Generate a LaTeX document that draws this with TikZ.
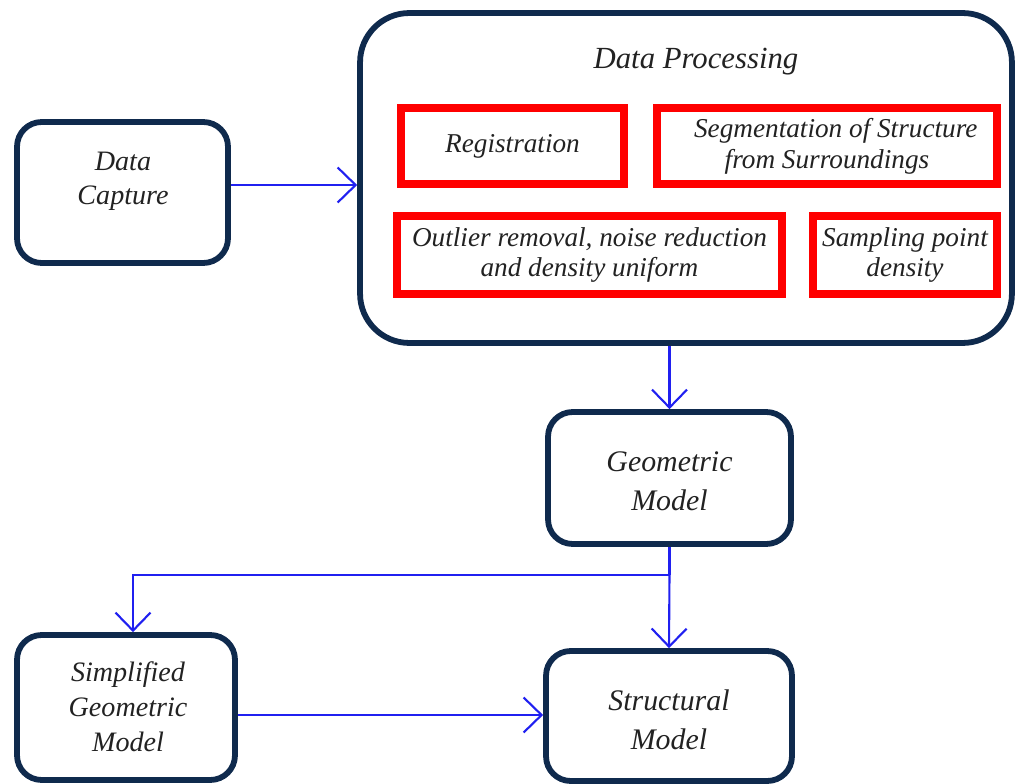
\documentclass[tikz,border=0pt]{standalone}
\usepackage{fontspec}
\setmainfont{Liberation Serif}
\usetikzlibrary{arrows.meta}
\definecolor{navy}{HTML}{0F2A4D}
\definecolor{redb}{HTML}{FF0000}
\definecolor{blueline}{HTML}{2020F0}
\definecolor{txt}{HTML}{222222}
\tikzset{
  navybox/.style={draw=navy, line width=3.3pt, rounded corners=14pt, fill=white, inner sep=0pt},
  boxtext/.style={align=center, text=txt, font=\fontsize{16}{19.5}\selectfont\itshape, inner sep=0pt},
  bigtext/.style={boxtext, font=\fontsize{17}{22}\selectfont\itshape},
  redbox/.style={draw=redb, line width=4.3pt, fill=white, align=center, text=txt, font=\fontsize{15.5}{17.5}\selectfont\itshape, inner sep=0pt},
  conn/.style={draw=blueline, line width=1.2pt},
  arr/.style={conn, -{Straight Barb[length=3.6mm, width=7mm, line width=1.2pt]}}
}
\begin{document}
\begin{tikzpicture}[x=0.02cm, y=-0.02cm]
\useasboundingbox (0,0) rectangle (1019,784);
% Data Capture
\node[navybox, minimum width=4.22cm, minimum height=2.82cm] (dc) at (122.5,192.5) {};
\node[boxtext] (dct) at (123,181) {Data\\Capture};
% Data Processing container
\node[navybox, rounded corners=28pt, minimum width=13.04cm, minimum height=6.6cm] (dp) at (686,178) {};
\node[text=txt, font=\fontsize{17.5}{20}\selectfont\itshape] (dpt) at (696,62) {Data Processing};
% red boxes
\node[redbox, minimum width=4.46cm, minimum height=1.52cm] (reg) at (512.5,146) {Registration};
\node[redbox, minimum width=6.8cm, minimum height=1.52cm] (seg) at (827,146) {\hspace{10pt}Segmentation of Structure\\from Surroundings};
\node[redbox, minimum width=7.7cm, minimum height=1.56cm] (out) at (589.5,255) {Outlier removal, noise reduction\\and density uniform};
\node[redbox, minimum width=3.68cm, minimum height=1.56cm] (samp) at (905,255) {Sampling point\\density};
% Geometric model
\node[navybox, minimum width=4.86cm, minimum height=2.64cm] (gm) at (669.5,478) {};
\node[bigtext] (gmt) at (669.5,481) {Geometric\\Model};
% Simplified geometric model
\node[navybox, minimum width=4.36cm, minimum height=2.9cm] (sg) at (126,707.5) {};
\node[boxtext, font=\fontsize{16}{20}\selectfont\itshape] (sgt) at (128,707) {Simplified\\Geometric\\Model};
% Structural model
\node[navybox, minimum width=4.92cm, minimum height=2.6cm] (st) at (669,716) {};
\node[bigtext] (stt) at (669,720) {Structural\\Model};
% connectors
\draw[arr] (dc.east |- 0,185) -- (dp.west |- 0,185);
\draw[arr] (gm.north |- dp.south) -- (gm.north);
\coordinate (split) at (gm.south |- 0,575);
\draw[conn] (gm.south) -- (split);
\draw[arr] (split) -- (st.north);
\draw[arr] (split) -| ([xshift=0.14cm]sg.north);
\draw[arr] (sg.east |- 0,715) -- (st.west |- 0,715);
\end{tikzpicture}
\end{document}
